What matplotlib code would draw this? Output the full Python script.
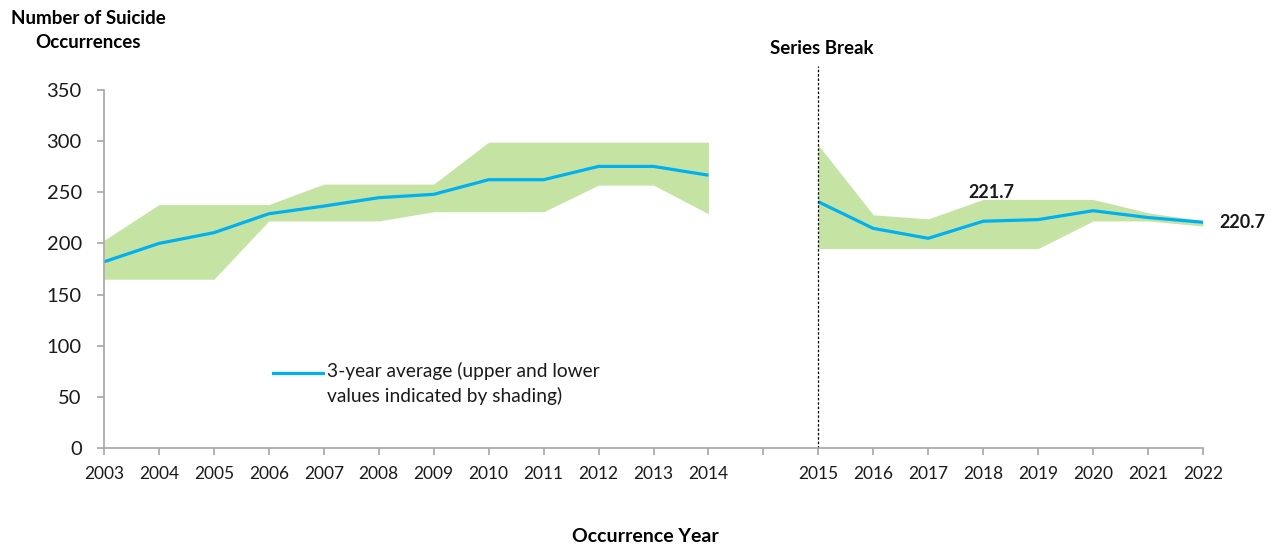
import numpy as np
import matplotlib.pyplot as plt
from matplotlib.lines import Line2D

plt.rcParams['font.family'] = ['Lato', 'DejaVu Sans']

# Data
years = [2003, 2004, 2005, 2006, 2007, 2008, 2009, 2010, 2011, 2012, 2013, 2014,
         2015, 2016, 2017, 2018, 2019, 2020, 2021, 2022]
avg = [182.0, 200.0, 210.5, 229.0, 236.5, 244.7, 248.0, 262.3, 262.3, 275.3, 275.3, 266.7,
       240.7, 214.7, 205.0, 221.7, 223.3, 232.0, 225.3, 220.7]
upper = [203, 238, 238, 238, 258, 258, 258, 299, 299, 299, 299, 299,
         296, 228, 224, 243, 243, 243, 230, 222]
lower = [165, 165, 165, 222, 222, 222, 231, 231, 231, 257, 257, 229,
         195, 195, 195, 195, 195, 222, 222, 217]
break_year = 2015

# x positions: leave one empty slot before the series break
pos = [i + (1 if y >= break_year else 0) for i, y in enumerate(years)]
n_before = sum(1 for y in years if y < break_year)

fig = plt.figure(figsize=(12.81, 5.48), dpi=100)
ax = fig.add_axes([104 / 1281, 1 - 448 / 548, (1203 - 104) / 1281, (448 - 90) / 548])

green = '#c5e4a3'
blue = '#00b0f0'

segments = [slice(0, n_before), slice(n_before, len(years))]
for s in segments:
    ax.fill_between(pos[s], lower[s], upper[s], color=green, linewidth=0)
    ax.plot(pos[s], avg[s], color=blue, linewidth=2.3, solid_capstyle='butt')

# series break line
bx = pos[n_before]
ax.plot([bx, bx], [0, 373], color='black', linestyle=(0, (2, 1.5)), linewidth=0.9, clip_on=False)
ax.text(bx + 0.07, 382, 'Series Break', ha='center', va='bottom', fontsize=13.5, fontweight='bold')

# data labels
i18 = years.index(2018)
ax.text(pos[i18] + 0.15, avg[i18] + 20, f'{avg[i18]:.1f}', ha='center', va='bottom',
        fontsize=13, fontweight='bold', color='#1a1a1a')
ax.text(pos[-1] + 0.3, avg[-1], f'{avg[-1]:.1f}', ha='left', va='center',
        fontsize=13, fontweight='bold', color='#1a1a1a')

ax.set_xlim(0, pos[-1])
ax.set_ylim(0, 350)
ax.set_yticks(range(0, 351, 50))

all_pos = list(range(pos[-1] + 1))
labels = []
for p in all_pos:
    labels.append(str(years[pos.index(p)]) if p in pos else '')
ax.set_xticks(all_pos)
ax.set_xticklabels(labels)

for side in ['top', 'right']:
    ax.spines[side].set_visible(False)
for side in ['left', 'bottom']:
    ax.spines[side].set_color('#a6a6a6')
    ax.spines[side].set_linewidth(1.2)
ax.tick_params(axis='y', length=5, width=1.2, color='#a6a6a6', pad=11, labelsize=14.5,
               labelcolor='#1a1a1a')
ax.tick_params(axis='x', length=5, width=1.2, color='#a6a6a6', pad=8, labelsize=12.5,
               labelcolor='#1a1a1a')

fig.text(88 / 1281, 1 - 10 / 548, 'Number of Suicide\nOccurrences', ha='center', va='top',
         fontsize=13.5, fontweight='bold', linespacing=1.5)
fig.text(645 / 1281, 1 - 536 / 548, 'Occurrence Year', ha='center', va='center',
         fontsize=14, fontweight='bold')

# legend drawn manually
fig.add_artist(Line2D([273 / 1281, 323 / 1281], [1 - 373 / 548, 1 - 373 / 548],
                      color=blue, linewidth=2.3))
fig.text(327 / 1281, 1 - 362 / 548, '3-year average (upper and lower\nvalues indicated by shading)',
         ha='left', va='top', fontsize=13.8, color='#1a1a1a', linespacing=1.45)

fig.savefig('out.png', dpi=100)
